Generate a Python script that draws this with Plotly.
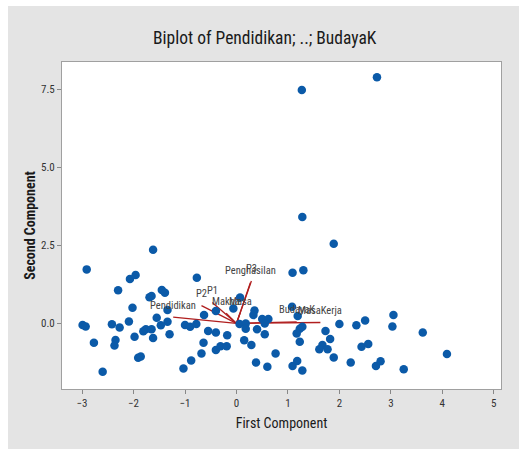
import plotly.graph_objects as go

# Observation scores (First Component, Second Component)
score_x = [2.73, 1.27, 1.28, 1.89, -1.62, -2.91, 1.09, 1.30, -2.07, -1.96,
           -0.77, -2.30, -1.45, -1.39, -1.69, -1.65, -2.02, -1.34, 0.07, -0.06,
           -0.40, 0.35, 0.33, -0.63, -1.55, -2.09, -1.34, -1.47, -2.99, -2.93,
           -2.42, -2.27, -1.00, -0.90, -0.78, 0.06, 0.18, 0.18, 0.50, 0.62,
           0.55, 1.19, 1.28, 1.23, 1.17, 2.00, 2.33, 2.50, 3.05, 3.03,
           3.62, 4.09, -1.81, -1.76, -1.65, -1.62, -1.98, -1.30, -0.55, -0.40,
           -0.18, 0.40, 0.55, 0.15, 0.29, -0.64, -0.40, -0.31, -0.19, -0.68,
           -0.88, -1.03, -2.77, -2.35, -2.37, -1.91, -1.86, -2.60, 0.76, 0.38,
           0.60, 1.09, 1.18, 1.28, 1.23, 1.73, 1.82, 1.67, 1.61, 1.77,
           1.89, 2.22, 2.43, 2.56, 2.71, 2.80, 3.25, 1.08]
score_y = [7.88, 7.47, 3.41, 2.55, 2.36, 1.73, 1.62, 1.70, 1.42, 1.55,
           1.46, 1.06, 1.07, 0.98, 0.84, 0.88, 0.50, 0.43, 0.83, 0.48,
           0.40, 0.41, 0.27, 0.27, 0.18, 0.06, 0.05, -0.06, -0.05, -0.10,
           -0.03, -0.13, -0.05, -0.11, -0.02, -0.02, 0.00, -0.17, 0.14, 0.14,
           0.00, 0.24, -0.11, -0.17, -0.32, -0.02, -0.06, 0.09, 0.27, -0.10,
           -0.29, -0.98, -0.25, -0.19, -0.19, -0.47, -0.43, -0.35, -0.24, -0.29,
           -0.38, -0.19, -0.35, -0.54, -0.69, -0.62, -0.85, -0.73, -0.73, -0.96,
           -1.19, -1.44, -0.62, -0.53, -0.71, -1.10, -1.06, -1.55, -0.96, -1.25,
           -1.39, -1.36, -1.20, -1.51, -0.59, -0.24, -0.50, -0.69, -0.83, -0.83,
           -1.09, -1.25, -0.75, -0.66, -1.36, -1.21, -1.47, 0.53]

# Variable loading vectors
var_names = ["Pendidikan", "P2", "P1", "Makna", "Masa", "Penghasilan", "P3", "BudayaK", "MasaKerja"]
load_x = [-1.23, -0.68, -0.47, -0.20, 0.07, 0.27, 0.29, 1.17, 1.63]
load_y = [0.20, 0.57, 0.67, 0.33, 0.33, 1.30, 1.36, 0.05, 0.03]

x_ticks = [-3, -2, -1, 0, 1, 2, 3, 4, 5]
y_ticks = [0.0, 2.5, 5.0, 7.5]

FONT = "Liberation Sans Narrow, Roboto Condensed, Arial Narrow, Liberation Sans, sans-serif"
GRAY_BG = "#E4E4E4"
RED = "#B01E1E"

fig = go.Figure()

# loading vectors
for n, lx, ly in zip(var_names, load_x, load_y):
    fig.add_trace(go.Scatter(x=[0, lx], y=[0, ly], mode="lines",
                             line=dict(color=RED, width=1.3),
                             hoverinfo="skip", showlegend=False))

fig.add_trace(go.Scatter(x=score_x, y=score_y, mode="markers",
                         marker=dict(color="#0B5AA8", size=8.5, line=dict(width=0)),
                         showlegend=False))

annotations = [
    dict(x=lx, y=ly, xref="x", yref="y", text=n, showarrow=False,
         yshift=12, xanchor="center", yanchor="middle",
         font=dict(family=FONT, size=10.5, color="#444444"))
    for n, lx, ly in zip(var_names, load_x, load_y)
]

W, H = 519, 449
L, R, T, B = 62, 18, 62, 60
pw, ph = W - L - R, H - T - B

fig.update_layout(
    width=W, height=H,
    margin=dict(l=L, r=R, t=T, b=B),
    paper_bgcolor=GRAY_BG, plot_bgcolor="white",
    annotations=annotations,
    shapes=[
        # white strip along the top (6 px) and left (8 px) edges
        dict(type="rect", xref="paper", yref="paper",
             x0=-L / pw - 0.01, x1=1 + R / pw + 0.01,
             y0=1 + (T - 6) / ph, y1=1 + T / ph + 0.01,
             fillcolor="white", line=dict(width=0), layer="above"),
        dict(type="rect", xref="paper", yref="paper",
             x0=-L / pw - 0.01, x1=-(L - 8) / pw,
             y0=-B / ph - 0.01, y1=1 + T / ph + 0.01,
             fillcolor="white", line=dict(width=0), layer="above"),
    ],
    title=dict(text="Biplot of Pendidikan; ..; BudayaK", x=0.51, xanchor="center",
               xref="container", y=1 - 38 / H, yanchor="middle", yref="container",
               font=dict(family=FONT, size=17.5, color="#1a1a1a")),
    font=dict(family=FONT, color="#333333"),
    xaxis=dict(range=[-3.39, 5.14], tickvals=x_ticks, ticks="outside", ticklen=4,
               tickcolor="#888888", showgrid=False, zeroline=False, automargin=False,
               showline=True, linecolor="#A0A0A0", mirror=True,
               tickfont=dict(size=11, color="#333333"),
               title=dict(text="First Component", font=dict(size=14, color="#1a1a1a"), standoff=8)),
    yaxis=dict(range=[-2.1, 8.37], tickvals=y_ticks, tickformat=".1f", ticks="outside",
               ticklen=4, tickcolor="#888888", showgrid=False, zeroline=False, automargin=False,
               showline=True, linecolor="#A0A0A0", mirror=True,
               tickfont=dict(size=11, color="#333333"),
               title=dict(text="<b>Second Component</b>", font=dict(size=14, color="#1a1a1a"), standoff=2)),
)

fig.write_html("out.html", config={"displayModeBar": False},
               post_script=("document.body.style.margin='0';"
                            "document.body.style.overflow='hidden';"
                            "document.documentElement.style.background='%s';"
                            "document.body.style.background='%s';") % (GRAY_BG, GRAY_BG))
